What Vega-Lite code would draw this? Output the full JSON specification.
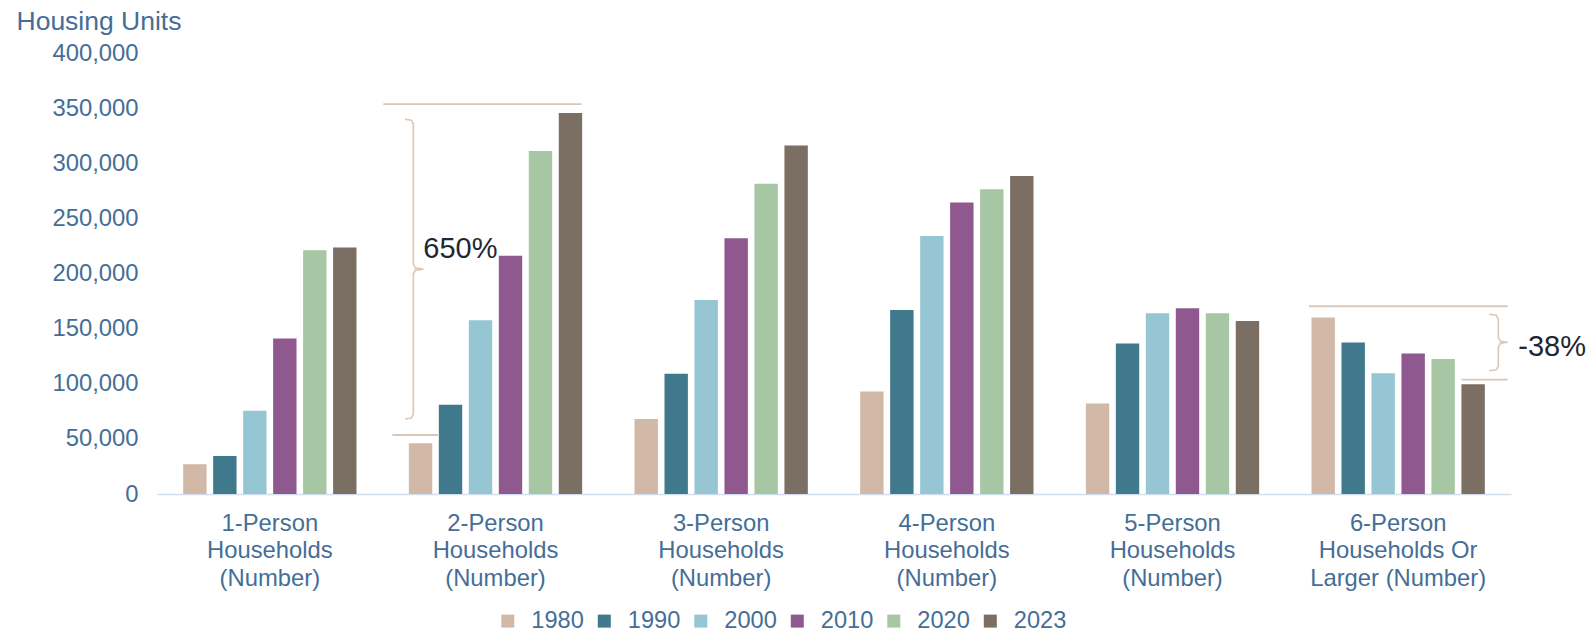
{
  "$schema": "https://vega.github.io/schema/vega-lite/v6.json",
  "width": 1354,
  "height": 441,
  "autosize": {"type": "none"},
  "padding": {"left": 157, "top": 53, "right": 77, "bottom": 138},
  "background": "white",
  "config": {
    "view": {"stroke": null},
    "font": "Liberation Sans"
  },
  "datasets": {
    "households": [
      {"size": "1-Person Households (Number)", "year": "1980", "units": 27000},
      {"size": "1-Person Households (Number)", "year": "1990", "units": 34500},
      {"size": "1-Person Households (Number)", "year": "2000", "units": 75500},
      {"size": "1-Person Households (Number)", "year": "2010", "units": 141000},
      {"size": "1-Person Households (Number)", "year": "2020", "units": 221000},
      {"size": "1-Person Households (Number)", "year": "2023", "units": 223500},
      {"size": "2-Person Households (Number)", "year": "1980", "units": 46000},
      {"size": "2-Person Households (Number)", "year": "1990", "units": 81000},
      {"size": "2-Person Households (Number)", "year": "2000", "units": 157500},
      {"size": "2-Person Households (Number)", "year": "2010", "units": 216000},
      {"size": "2-Person Households (Number)", "year": "2020", "units": 311000},
      {"size": "2-Person Households (Number)", "year": "2023", "units": 345500},
      {"size": "3-Person Households (Number)", "year": "1980", "units": 68000},
      {"size": "3-Person Households (Number)", "year": "1990", "units": 109000},
      {"size": "3-Person Households (Number)", "year": "2000", "units": 176000},
      {"size": "3-Person Households (Number)", "year": "2010", "units": 232000},
      {"size": "3-Person Households (Number)", "year": "2020", "units": 281500},
      {"size": "3-Person Households (Number)", "year": "2023", "units": 316000},
      {"size": "4-Person Households (Number)", "year": "1980", "units": 93000},
      {"size": "4-Person Households (Number)", "year": "1990", "units": 167000},
      {"size": "4-Person Households (Number)", "year": "2000", "units": 234000},
      {"size": "4-Person Households (Number)", "year": "2010", "units": 264500},
      {"size": "4-Person Households (Number)", "year": "2020", "units": 276500},
      {"size": "4-Person Households (Number)", "year": "2023", "units": 288500},
      {"size": "5-Person Households (Number)", "year": "1980", "units": 82000},
      {"size": "5-Person Households (Number)", "year": "1990", "units": 136500},
      {"size": "5-Person Households (Number)", "year": "2000", "units": 164000},
      {"size": "5-Person Households (Number)", "year": "2010", "units": 168500},
      {"size": "5-Person Households (Number)", "year": "2020", "units": 164000},
      {"size": "5-Person Households (Number)", "year": "2023", "units": 157000},
      {"size": "6-Person Households Or Larger (Number)", "year": "1980", "units": 160000},
      {"size": "6-Person Households Or Larger (Number)", "year": "1990", "units": 137500},
      {"size": "6-Person Households Or Larger (Number)", "year": "2000", "units": 109500},
      {"size": "6-Person Households Or Larger (Number)", "year": "2010", "units": 127500},
      {"size": "6-Person Households Or Larger (Number)", "year": "2020", "units": 122500},
      {"size": "6-Person Households Or Larger (Number)", "year": "2023", "units": 99500}
    ],
    "guides": [
      {"g": 1.003, "g2": 1.882, "units": 353700},
      {"g": 1.043, "g2": 1.245, "units": 53500},
      {"g": 5.105, "g2": 5.985, "units": 170300},
      {"g": 5.781, "g2": 5.985, "units": 103700}
    ],
    "braces": [
      {"brace": "a", "k": 1, "g": 1.099, "units": 339900},
      {"brace": "a", "k": 2, "g": 1.127, "units": 339000},
      {"brace": "a", "k": 3, "g": 1.136, "units": 335400},
      {"brace": "a", "k": 4, "g": 1.136, "units": 208500},
      {"brace": "a", "k": 5, "g": 1.145, "units": 204900},
      {"brace": "a", "k": 6, "g": 1.180, "units": 204000},
      {"brace": "a", "k": 7, "g": 1.145, "units": 203100},
      {"brace": "a", "k": 8, "g": 1.136, "units": 199500},
      {"brace": "a", "k": 9, "g": 1.136, "units": 72500},
      {"brace": "a", "k": 10, "g": 1.127, "units": 68900},
      {"brace": "a", "k": 11, "g": 1.099, "units": 68000},
      {"brace": "b", "k": 1, "g": 5.903, "units": 163000},
      {"brace": "b", "k": 2, "g": 5.935, "units": 162100},
      {"brace": "b", "k": 3, "g": 5.944, "units": 158500},
      {"brace": "b", "k": 4, "g": 5.944, "units": 142100},
      {"brace": "b", "k": 5, "g": 5.953, "units": 138500},
      {"brace": "b", "k": 6, "g": 5.985, "units": 137600},
      {"brace": "b", "k": 7, "g": 5.953, "units": 136700},
      {"brace": "b", "k": 8, "g": 5.944, "units": 133100},
      {"brace": "b", "k": 9, "g": 5.944, "units": 116300},
      {"brace": "b", "k": 10, "g": 5.935, "units": 112700},
      {"brace": "b", "k": 11, "g": 5.903, "units": 111800}
    ],
    "changes": [
      {"g": 1.180, "units": 214000, "label": "650%"},
      {"g": 6.032, "units": 125000, "label": "-38%"}
    ]
  },
  "resolve": {"scale": {"x": "independent"}, "axis": {"x": "independent"}},
  "layer": [
    {
      "data": {"name": "households"},
      "mark": {"type": "bar"},
      "encoding": {
        "x": {
          "field": "size",
          "type": "nominal",
          "sort": null,
          "scale": {"paddingInner": 0.232, "paddingOuter": 0.116},
          "axis": {
            "title": null,
            "labelAngle": 0,
            "labelFontSize": 23.8,
            "labelColor": "#456E97",
            "labelPadding": 17,
            "labelLineHeight": 27.5,
            "labelBaseline": "top",
            "ticks": false,
            "domainColor": "#D3DEEC",
            "domainWidth": 1.5,
            "labelExpr": "datum.label == '6-Person Households Or Larger (Number)' ? ['6-Person', 'Households Or', 'Larger (Number)'] : split(datum.label, ' ')"
          }
        },
        "xOffset": {
          "field": "year",
          "type": "nominal",
          "scale": {"paddingInner": 0.22, "paddingOuter": 0}
        },
        "y": {
          "field": "units",
          "type": "quantitative",
          "scale": {"domain": [0, 400000], "nice": false},
          "axis": {
            "title": "Housing Units",
            "titleAngle": 0,
            "titleAlign": "left",
            "titleBaseline": "alphabetic",
            "titleX": -141,
            "titleY": -24,
            "titleFontSize": 26.5,
            "titleFontWeight": "normal",
            "titleColor": "#456E97",
            "values": [0, 50000, 100000, 150000, 200000, 250000, 300000, 350000, 400000],
            "format": ",d",
            "labelFontSize": 23.8,
            "labelColor": "#456E97",
            "labelPadding": 19,
            "ticks": false,
            "domain": false,
            "grid": false
          }
        },
        "color": {
          "field": "year",
          "type": "nominal",
          "scale": {
            "domain": ["1980", "1990", "2000", "2010", "2020", "2023"],
            "range": ["#D2B8A6", "#40788C", "#96C5D4", "#8F588E", "#A7C6A3", "#7B6E62"]
          },
          "legend": {
            "title": null,
            "orient": "none",
            "direction": "horizontal",
            "legendX": 339,
            "legendY": 556,
            "padding": 0,
            "symbolType": "square",
            "symbolSize": 169,
            "symbolStrokeWidth": 0,
            "labelFontSize": 23.6,
            "labelColor": "#456E97",
            "labelOffset": 11.7,
            "columnPadding": 8.5
          }
        }
      }
    },
    {
      "data": {"name": "guides"},
      "mark": {"type": "rule", "color": "#DCC6B6", "strokeWidth": 1.8},
      "encoding": {
        "x": {"field": "g", "type": "quantitative", "scale": {"domain": [0, 6], "nice": false, "zero": false}, "axis": null},
        "x2": {"field": "g2"},
        "y": {"field": "units", "type": "quantitative"}
      }
    },
    {
      "data": {"name": "braces"},
      "mark": {"type": "line", "color": "#DCC6B6", "strokeWidth": 1.6},
      "encoding": {
        "x": {"field": "g", "type": "quantitative", "scale": {"domain": [0, 6], "nice": false, "zero": false}, "axis": null},
        "y": {"field": "units", "type": "quantitative"},
        "detail": {"field": "brace", "type": "nominal"},
        "order": {"field": "k", "type": "quantitative"}
      }
    },
    {
      "data": {"name": "changes"},
      "mark": {"type": "text", "align": "left", "baseline": "alphabetic", "fontSize": 29, "color": "#1E2733"},
      "encoding": {
        "x": {"field": "g", "type": "quantitative", "scale": {"domain": [0, 6], "nice": false, "zero": false}, "axis": null},
        "y": {"field": "units", "type": "quantitative"},
        "text": {"field": "label", "type": "nominal"}
      }
    }
  ]
}
